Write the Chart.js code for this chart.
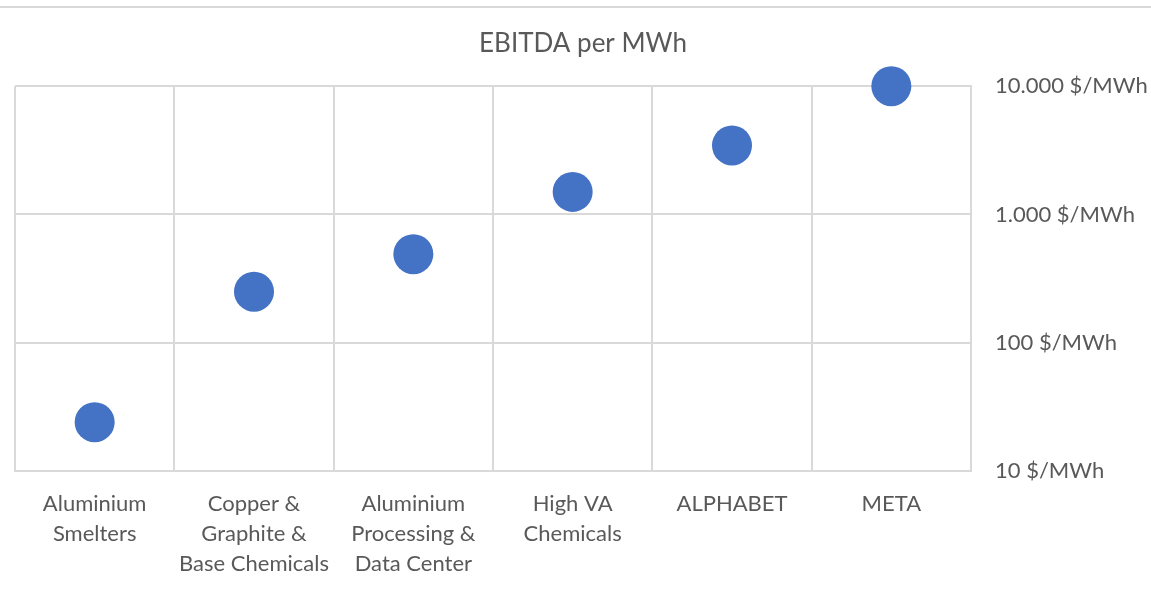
<!DOCTYPE html>
<html><head><meta charset="utf-8">
<script src="https://cdn.jsdelivr.net/npm/chart.js@4/dist/chart.umd.min.js"></script>
<style>
html,body{margin:0;padding:0;background:#fff;}
#wrap{position:relative;width:1151px;height:589px;}
#topline{position:absolute;left:0;top:6px;width:1151px;height:2px;background:#d9d9d9;}
canvas{display:block;}
</style></head>
<body>
<div id="wrap"><div id="topline"></div><canvas id="c" width="1151" height="589"></canvas></div>
<script>
const categories = [
  ['Aluminium','Smelters'],
  ['Copper &','Graphite &','Base Chemicals'],
  ['Aluminium','Processing &','Data Center'],
  ['High VA','Chemicals'],
  'ALPHABET',
  'META'
];
const ebitdaPerMWh = [24, 250, 490, 1500, 3450, 10000];
const yTickValues = [10, 100, 1000, 10000];
const yTickLabels = ['10 $/MWh', '100 $/MWh', '1.000 $/MWh', '10.000 $/MWh'];

const FONT = 'Lato, "Open Sans", sans-serif';
const TXT = '#595959';
const GRID = '#d9d9d9';

new Chart(document.getElementById('c'), {
  type: 'line',
  data: {
    labels: categories,
    datasets: [{
      data: ebitdaPerMWh,
      showLine: false,
      pointRadius: 20,
      pointHoverRadius: 20,
      pointBackgroundColor: '#4472C4',
      pointBorderColor: '#4472C4',
      pointBorderWidth: 0,
      clip: false
    }]
  },
  options: {
    responsive: false,
    animation: false,
    layout: { autoPadding: false, padding: { left: 15, right: 0, top: 0, bottom: 0 } },
    plugins: {
      legend: { display: false },
      tooltip: { enabled: false },
      title: {
        display: true,
        text: 'EBITDA per MWh',
        color: TXT,
        font: { family: FONT, size: 26, weight: 'normal', lineHeight: 1.2 },
        padding: { top: 28, bottom: 27 }
      }
    },
    scales: {
      x: {
        type: 'category',
        offset: true,
        grid: { offset: true, color: GRID, lineWidth: 2, drawTicks: false },
        border: { display: true, color: GRID, width: 2 },
        ticks: { color: TXT, font: { family: FONT, size: 22, lineHeight: 1.36 }, padding: 18, maxRotation: 0, autoSkip: false },
        afterFit: (s) => { s.height = 118; s.paddingLeft = 0; s.paddingRight = 0; }
      },
      y: {
        type: 'logarithmic',
        position: 'right',
        min: 10,
        max: 10000,
        grid: { color: GRID, lineWidth: 2, drawTicks: false },
        border: { display: true, color: GRID, width: 2 },
        afterBuildTicks: (s) => { s.ticks = yTickValues.map(v => ({ value: v })); },
        ticks: {
          color: TXT,
          font: { family: FONT, size: 22 },
          padding: 24,
          callback: (v) => { const i = yTickValues.indexOf(v); return i >= 0 ? yTickLabels[i] : ''; }
        },
        afterFit: (s) => { s.width = 180; s.paddingTop = 0; s.paddingBottom = 0; }
      }
    }
  }
});
</script>
</body></html>
